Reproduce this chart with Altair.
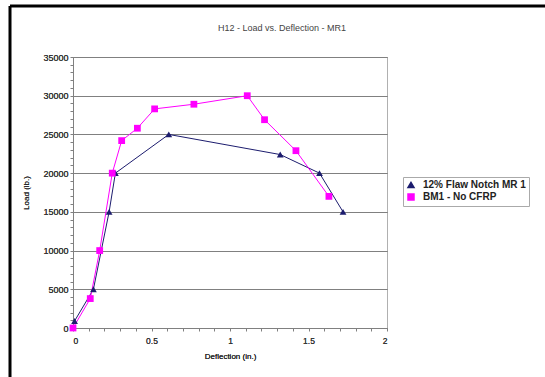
import altair as alt
import pandas as pd

# Data
s1_name = "12% Flaw Notch MR 1"
s1_x = [0.01, 0.13, 0.23, 0.27, 0.61, 1.32, 1.57, 1.72]
s1_y = [900, 5000, 15000, 20000, 25000, 22400, 20000, 15000]

s2_name = "BM1 - No CFRP"
s2_x = [0.0, 0.11, 0.17, 0.25, 0.31, 0.41, 0.52, 0.77, 1.11, 1.22, 1.42, 1.63]
s2_y = [0, 3800, 10000, 20000, 24200, 25800, 28300, 28900, 30000, 26900, 22900, 17000]

x_ticks = [0, 0.5, 1, 1.5, 2]
y_ticks = [0, 5000, 10000, 15000, 20000, 25000, 30000, 35000]
x_minor = [round(i * 0.1, 1) for i in range(21)]
y_minor = list(range(0, 35001, 1000))

title_text = "H12 - Load vs. Deflection - MR1"

rows = []
for i, (a, b) in enumerate(zip(s1_x, s1_y)):
    rows.append({"series": s1_name, "x": a, "y": b, "i": i})
for i, (a, b) in enumerate(zip(s2_x, s2_y)):
    rows.append({"series": s2_name, "x": a, "y": b, "i": i})
df = pd.DataFrame(rows)

FONT = "Liberation Sans"
W, H = 314, 271
PL, PT = 73, 57

xscale = alt.Scale(domain=[0, 2], nice=False, zero=False)
yscale = alt.Scale(domain=[0, 35000], nice=False)
colors = alt.Scale(domain=[s1_name, s2_name], range=["#1c1c6e", "#ff00ff"])
shapes = alt.Scale(domain=[s1_name, s2_name], range=["triangle-up", "square"])

xaxis = alt.Axis(values=x_ticks, format="~g", grid=False, title="Deflection (in.)",
                 orient="bottom",
                 labelFontSize=8.5, labelColor="#333", labelFont=FONT, labelPadding=8,
                 tickSize=0, domainColor="#808080", titleFont=FONT, titleFontSize=8,
                 titleFontWeight="normal", titleColor="#222", titleY=24)
yaxis = alt.Axis(values=y_ticks, format="d", grid=True, gridColor="#808080", gridWidth=1,
                 orient="left",
                 title="Load (lb.)", labelFontSize=9, labelColor="#333", labelFont=FONT,
                 labelPadding=5, tickSize=0, domainColor="#808080", titleFont=FONT,
                 titleFontSize=8, titleFontWeight="normal", titleColor="#222",
                 titleX=-43, titleY=H / 2, titleAngle=-90)

legend = alt.Legend(
    title=None, orient="none", legendX=330, legendY=120, strokeColor="#aaa",
    padding=3, labelFontSize=10, labelFont=FONT, labelFontWeight="bold",
    labelColor="#222", symbolSize=36, rowPadding=0, labelOffset=7,
    fillColor="white", labelLimit=300)

base = alt.Chart(df)

lines = base.mark_line(strokeWidth=1).encode(
    x=alt.X("x:Q", scale=xscale, axis=xaxis),
    y=alt.Y("y:Q", scale=yscale, axis=yaxis),
    color=alt.Color("series:N", scale=colors, legend=legend),
    detail="series:N",
    order="i:Q",
)

points = base.mark_point(filled=True, opacity=1, size=46).encode(
    x=alt.X("x:Q", scale=xscale, axis=xaxis),
    y=alt.Y("y:Q", scale=yscale, axis=yaxis),
    color=alt.Color("series:N", scale=colors, legend=legend),
    shape=alt.Shape("series:N", scale=shapes, legend=legend),
)

minor = base.mark_point(opacity=0).encode(
    x=alt.X("x:Q", scale=xscale, axis=alt.Axis(values=x_minor, labels=False, grid=False,
                                                domain=False, tickSize=3, tickColor="#808080",
                                                title=None, orient="bottom")),
    y=alt.Y("y:Q", scale=yscale, axis=alt.Axis(values=y_minor, labels=False, grid=False,
                                                domain=False, tickSize=3, tickColor="#808080",
                                                title=None, orient="left")),
)

dummy = alt.Data(values=[{"a": 1}])
border_left = alt.Chart(dummy).mark_rule(color="black", strokeWidth=3).encode(
    x=alt.value(-63), y=alt.value(-51), y2=alt.value(400))
border_top = alt.Chart(dummy).mark_rule(color="black", strokeWidth=3).encode(
    x=alt.value(-63), x2=alt.value(600), y=alt.value(-51))

title = alt.Chart(dummy).mark_text(font=FONT, fontSize=9, color="#444", align="center",
                                   baseline="middle").encode(
    x=alt.value(209), y=alt.value(-29), text=alt.value(title_text))

chart = alt.layer(lines, points, minor, border_left, border_top, title).resolve_axis(
    x="independent", y="independent"
).resolve_scale(x="shared", y="shared").properties(
    width=W, height=H,
    autosize=alt.AutoSizeParams(type="none"),
    padding={"left": PL, "top": PT, "right": 545 - PL - W, "bottom": 377 - PT - H},
    background="white",
).configure_view(stroke="#b0b0b0", strokeWidth=1)

chart.save("out.html", embed_options={"renderer": "svg", "actions": False})
